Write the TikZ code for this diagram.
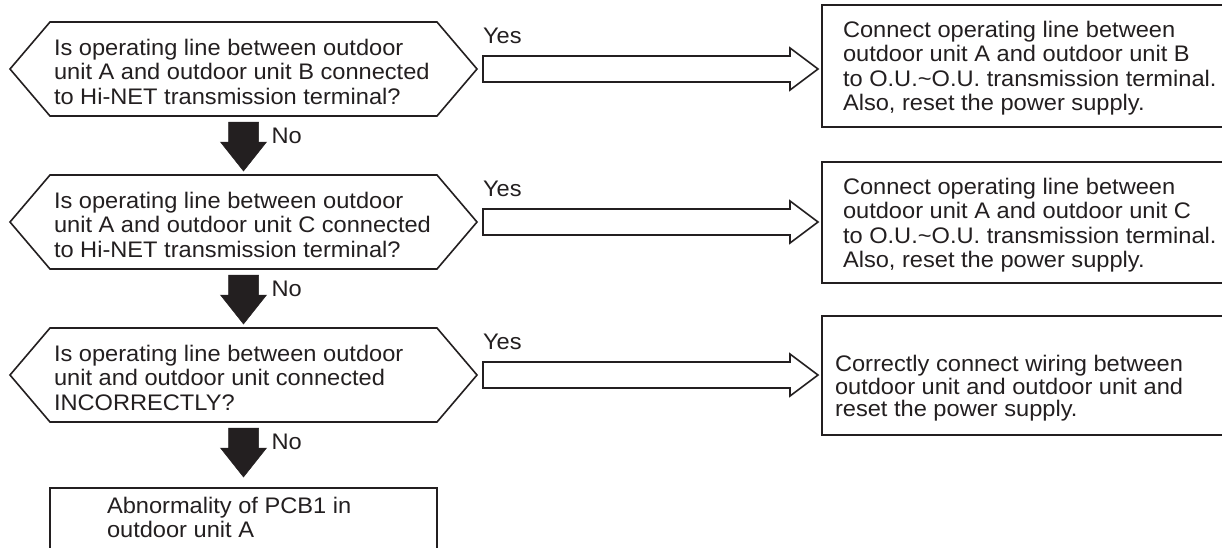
\documentclass[tikz,border=0pt]{standalone}
\usepackage{fontspec}
\setmainfont[FakeStretch=1.05]{Liberation Sans}
\usetikzlibrary{calc}
\definecolor{ink}{HTML}{231F20}
\begin{document}
\begin{tikzpicture}[x=1pt,y=-1pt,
  txt/.style={font=\fontsize{22.5}{24.5}\selectfont, text=ink, align=left, inner sep=0pt, outer sep=0pt},
  frame/.style={draw=ink, line width=1.6pt, fill=white, inner sep=0pt, outer sep=0pt},
  hexin/.style={inner sep=0pt, outer sep=0pt, minimum width=387pt, minimum height=94pt},
  outline/.style={draw=ink, line width=1.6pt, line join=miter},
  blockarrow/.style={draw=ink, line width=1.6pt, fill=white, line join=miter},
  noarrow/.style={fill=ink, draw=ink, line width=0.5pt, line join=miter}]
\clip (0,0) rectangle (1222,547);
\fill[white] (0,0) rectangle (1222,547);

% decision hexagons (inner rectangles)
\node[hexin] (h1) at (243.5,69) {};
\node[hexin] (h2) at (243.5,222) {};
\node[hexin] (h3) at (243.5,375) {};
\foreach \h in {h1,h2,h3}{
  \draw[outline] (\h.north west) -- (\h.north east) -- ($(\h.east)+(40,0)$)
    -- (\h.south east) -- (\h.south west) -- ($(\h.west)+(-40,0)$) -- cycle;
}
\node[txt, anchor=north west] (t1) at ($(h1.north west)+(4,17)$)
  {Is operating line between outdoor\\unit A and outdoor unit B connected\\to Hi-NET transmission terminal?};
\node[txt, anchor=north west] (t2) at ($(h2.north west)+(4,17)$)
  {Is operating line between outdoor\\unit A and outdoor unit C connected\\to Hi-NET transmission terminal?};
\node[txt, anchor=north west] (t3) at ($(h3.north west)+(4,17)$)
  {Is operating line between outdoor\\unit and outdoor unit connected\\INCORRECTLY?};

% result boxes
\node[frame, anchor=north west, minimum width=420pt, minimum height=122pt] (b1) at (822,5) {};
\node[frame, anchor=north west, minimum width=420pt, minimum height=121pt] (b2) at (822,162) {};
\node[frame, anchor=north west, minimum width=420pt, minimum height=119pt] (b3) at (822,316) {};
\node[frame, anchor=north west, minimum width=387pt, minimum height=80pt] (bb) at (50,488) {};

\node[txt, anchor=north west] (bt1) at ($(b1.north west)+(21,16)$)
  {Connect operating line between\\outdoor unit A and outdoor unit B\\to O.U.\textasciitilde O.U. transmission terminal.\\Also, reset the power supply.};
\node[txt, anchor=north west] (bt2) at ($(b2.north west)+(21,16)$)
  {Connect operating line between\\outdoor unit A and outdoor unit C\\to O.U.\textasciitilde O.U. transmission terminal.\\Also, reset the power supply.};
\node[txt, anchor=north west, font=\fontsize{22.5}{22.8}\selectfont] (bt3) at ($(b3.north west)+(13,39)$)
  {Correctly connect wiring between\\outdoor unit and outdoor unit and\\reset the power supply.};
\node[txt, anchor=north west] (btt) at ($(bb.north west)+(57,9)$)
  {Abnormality of PCB1 in\\outdoor unit A};

% Yes arrows
\foreach \i in {1,2,3}{
  \coordinate (s\i) at ($(h\i.east)+(46,0)$);
  \coordinate (e\i) at ($(s\i -| b\i.west)+(-4,0)$);
  \draw[blockarrow] ($(s\i)+(0,-13)$) -- ($(e\i)+(-28,-13)$) -- ($(e\i)+(-28,-21)$)
    -- (e\i) -- ($(e\i)+(-28,21)$) -- ($(e\i)+(-28,13)$) -- ($(s\i)+(0,13)$) -- cycle;
  \node[txt, anchor=base west] (y\i) at ($(s\i)+(0,-26)$) {Yes};
}

% No arrows
\coordinate (n1) at ($(h1.south)+(0,6)$);
\coordinate (m1) at ($(h2.north)+(0,-4)$);
\coordinate (n2) at ($(h2.south)+(0,6)$);
\coordinate (m2) at ($(h3.north)+(0,-4)$);
\coordinate (n3) at ($(h3.south)+(0,6)$);
\coordinate (m3) at ($(bb.north)+(0,-11)$);
\foreach \i in {1,2,3}{
  \path[noarrow] ($(n\i)+(-15,0)$) -- ($(n\i)+(15,0)$) -- ($(n\i)+(15,20)$)
    -- ($(n\i)+(23,20)$) -- (m\i) -- ($(n\i)+(-23,20)$) -- ($(n\i)+(-15,20)$) -- cycle;
  \node[txt, anchor=base west] (no\i) at ($(n\i)+(28,21)$) {No};
}
\end{tikzpicture}
\end{document}
